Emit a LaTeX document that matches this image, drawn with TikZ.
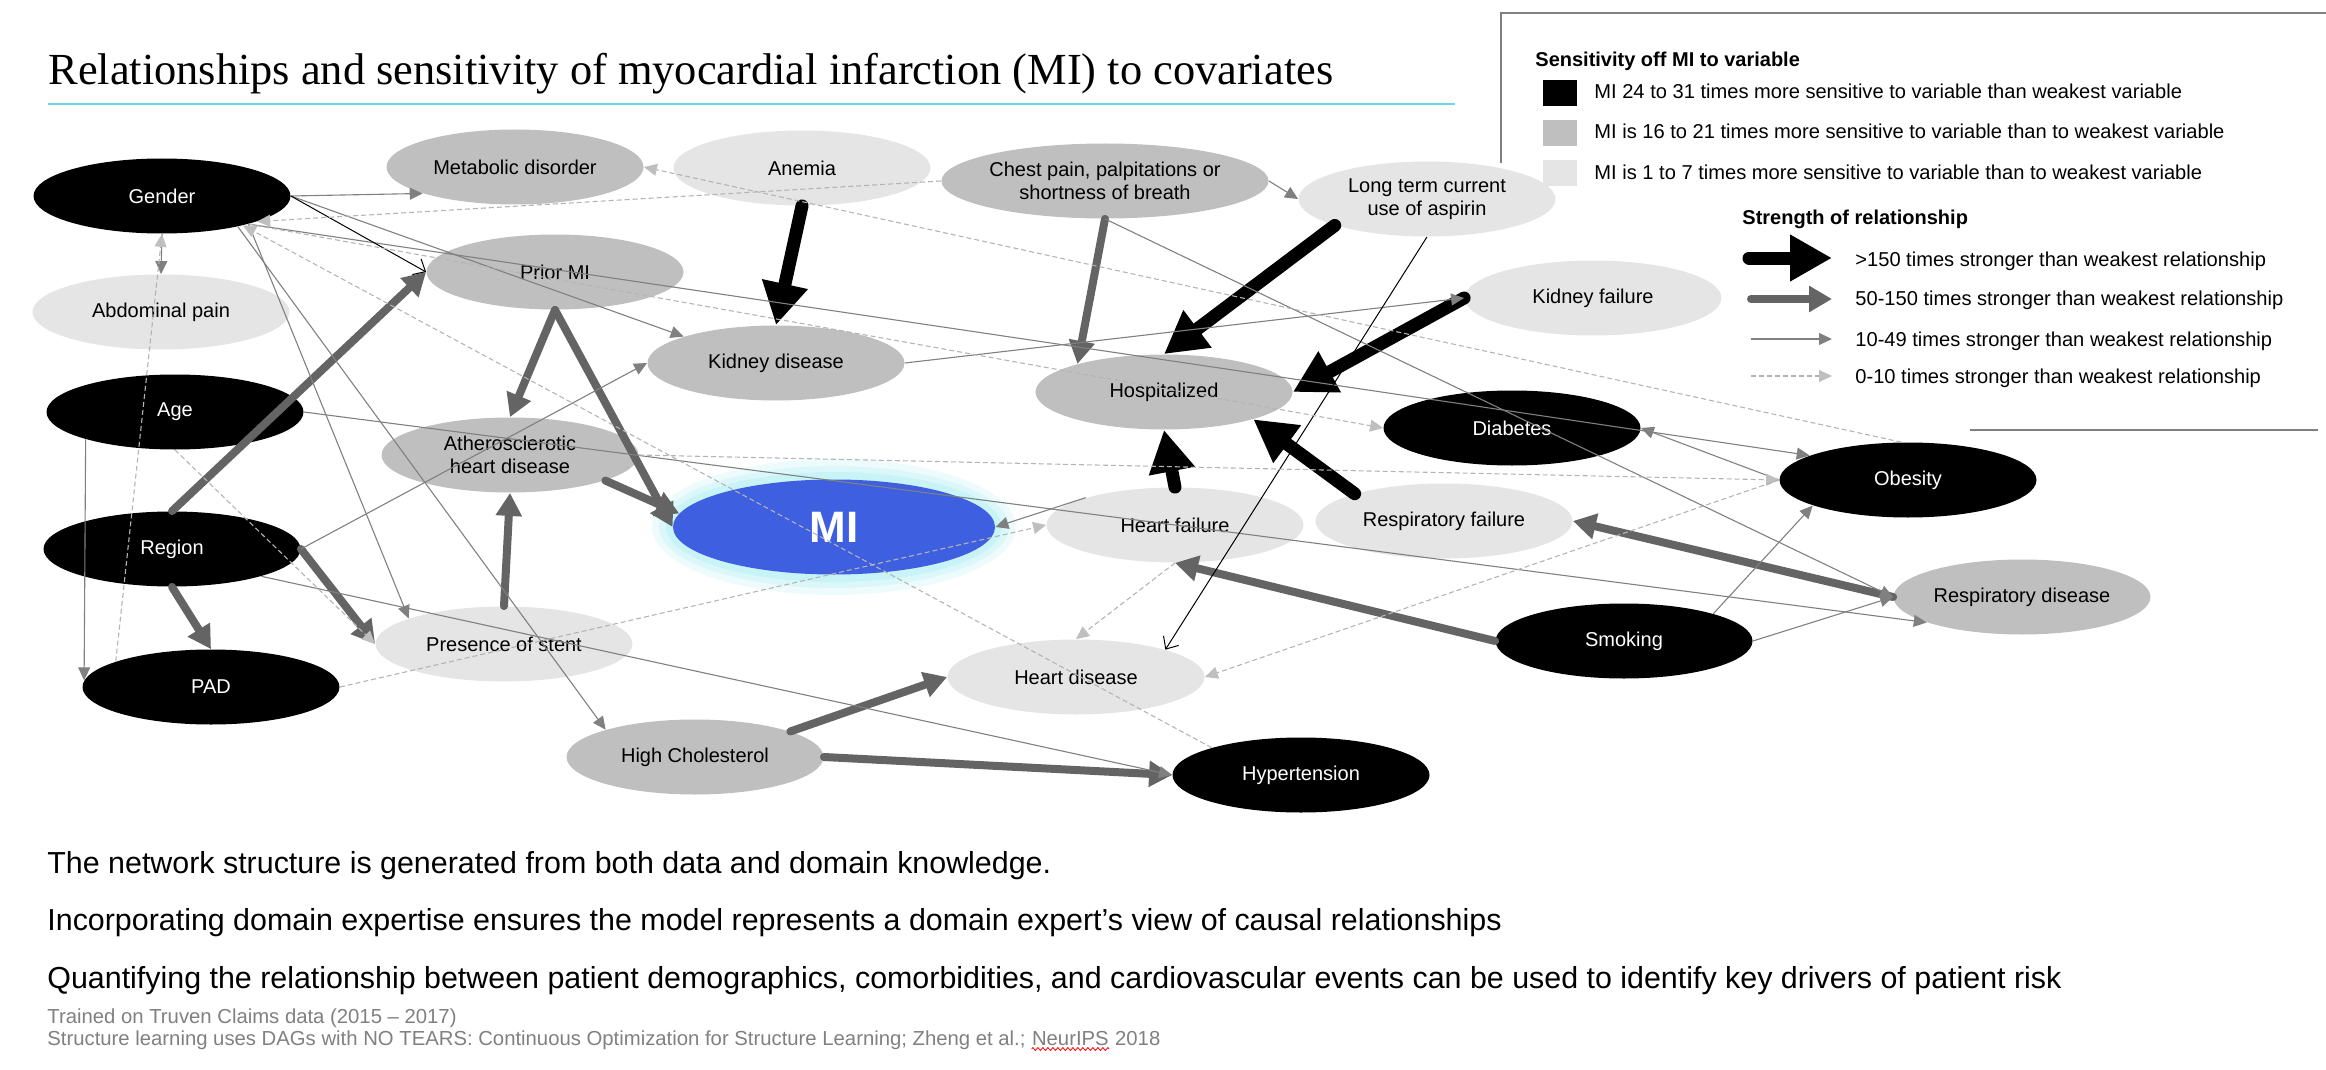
\documentclass[tikz,border=0pt]{standalone}
\usepackage{fontspec}
\setmainfont{Liberation Sans}
\newfontfamily\titlefont{Liberation Serif}
\usetikzlibrary{shapes.geometric,arrows.meta,decorations.pathmorphing}

\definecolor{midgray}{HTML}{BFBFBF}
\definecolor{lowgray}{HTML}{E5E5E5}
\definecolor{heavygray}{HTML}{646464}
\definecolor{linegray}{HTML}{808080}
\definecolor{dashgray}{HTML}{B4B4B4}
\definecolor{dashhead}{HTML}{BFBFBF}
\definecolor{miblue}{HTML}{3D5FE0}
\definecolor{miglow}{HTML}{B8F0F4}
\definecolor{rulecyan}{HTML}{66D9E8}
\definecolor{notegray}{HTML}{808080}

\begin{document}
\begin{tikzpicture}[x=0.5pt,y=-0.5pt,
    var/.style={ellipse,minimum width=128.5pt,minimum height=37.5pt,inner sep=0pt,
      align=center,font=\fontsize{10pt}{11.5pt}\selectfont},
    topvar/.style={var,fill=black,text=white},
    midvar/.style={var,fill=midgray},
    lowvar/.style={var,fill=lowgray},
    edgehuge/.style={-{Triangle[length=21pt,width=22pt]},line width=6.5pt,line cap=round,black},
    edgebig/.style={-{Triangle[length=11.5pt,width=12.5pt]},line width=4pt,line cap=round,heavygray},
    edgethin/.style={-{Triangle[length=6.5pt,width=6pt]},line width=0.55pt,linegray},
    edgeweak/.style={-{Triangle[length=6.5pt,width=6pt,color=dashhead]},line width=0.55pt,
      dash pattern=on 2.5pt off 1.5pt,dashgray},
    edgeblack/.style={-{Straight Barb[length=5pt,width=9pt]},line width=0.5pt,black},
    keytext/.style={anchor=base west,inner sep=0pt,font=\fontsize{10.05pt}{12pt}\selectfont},
    keyhead/.style={keytext,font=\fontsize{10pt}{12pt}\selectfont\bfseries},
    notetext/.style={anchor=base west,inner sep=0pt,font=\fontsize{15.2pt}{18pt}\selectfont},
    srctext/.style={anchor=base west,inner sep=0pt,text=notegray,font=\fontsize{10.15pt}{12pt}\selectfont}]
  %\draw[step=100,very thin,color=blue!20] (0,0) grid (2326,1070);
  \useasboundingbox (0,0) rectangle (2326,1070);

  % title
  \node[anchor=base west,inner sep=0pt,font=\titlefont\fontsize{22.2pt}{26pt}\selectfont] (title) at (48,85)
    {Relationships and sensitivity of myocardial infarction (MI) to covariates};
  \draw[rulecyan,line width=0.8pt] (48,104) -- (1455,104);

  % legend
  \draw[notegray,line width=1pt] (1501,163) -- (1501,13) -- (2326,13);
  \draw[notegray,line width=1pt] (1970,430) -- (2318,430);
  \node[keyhead] (senshead) at (1535,67) {Sensitivity off MI to variable};
  \node[fill=black,minimum width=17pt,minimum height=13pt,inner sep=0pt] (key1) at (1560,93) {};
  \node[fill=midgray,minimum width=17pt,minimum height=13pt,inner sep=0pt] (key2) at (1560,133) {};
  \node[fill=lowgray,minimum width=17pt,minimum height=13pt,inner sep=0pt] (key3) at (1560,173) {};
  \node[keytext] (sens1) at (1594,99) {MI 24 to 31 times more sensitive to variable than weakest variable};
  \node[keytext] (sens2) at (1594,139) {MI is 16 to 21 times more sensitive to variable than to weakest variable};
  \node[keytext] (sens3) at (1594,180) {MI is 1 to 7 times more sensitive to variable than to weakest variable};
  \node[keyhead] (strhead) at (1742,225) {Strength of relationship};
  \coordinate (k1a) at (1749,258); \coordinate (k1b) at (1832,258);
  \coordinate (k2a) at (1751,299); \coordinate (k2b) at (1832,299);
  \coordinate (k3a) at (1751,339); \coordinate (k3b) at (1832,339);
  \coordinate (k4a) at (1751,376); \coordinate (k4b) at (1832,376);
  \draw[edgehuge] (k1a) -- (k1b);
  \draw[edgebig] (k2a) -- (k2b);
  \draw[edgethin] (k3a) -- (k3b);
  \draw[edgeweak] (k4a) -- (k4b);
  \node[keytext] (str1) at (1855,266) {>150 times stronger than weakest relationship};
  \node[keytext] (str2) at (1855,306) {50-150 times stronger than weakest relationship};
  \node[keytext] (str3) at (1855,346) {10-49 times stronger than weakest relationship};
  \node[keytext] (str4) at (1855,383) {0-10 times stronger than weakest relationship};

  % glow round MI
  \coordinate (mic) at (834,527);
  \fill[miglow,opacity=0.25] (mic) ellipse [x radius=91pt,y radius=34pt];
  \fill[miglow,opacity=0.35] (mic) ellipse [x radius=87.5pt,y radius=30.5pt];
  \fill[miglow,opacity=0.5] (mic) ellipse [x radius=84pt,y radius=27.5pt];

  % variables
  \node[topvar] (gender) at (162,196) {Gender};
  \node[midvar] (metab) at (515,167) {Metabolic disorder};
  \node[lowvar] (anemia) at (802,168) {Anemia};
  \node[midvar] (chest) at (1105,181) {Chest pain, palpitations or\\shortness of breath};
  \node[lowvar] (aspirin) at (1427,199) {Long term current\\use of aspirin};
  \node[lowvar] (abdpain) at (161,312) {Abdominal pain};
  \node[midvar] (priormi) at (555,272) {Prior MI};
  \node[lowvar] (kidfail) at (1593,298) {Kidney failure};
  \node[topvar] (age) at (175,412) {Age};
  \node[midvar] (kiddis) at (776,363) {Kidney disease};
  \node[midvar] (hosp) at (1164,392) {Hospitalized};
  \node[midvar] (athero) at (510,455) {Atherosclerotic\\heart disease};
  \node[topvar] (diabetes) at (1512,428) {Diabetes};
  \node[topvar] (obesity) at (1908,480) {Obesity};
  \node[var,fill=miblue,text=white,minimum width=161pt,minimum height=47.5pt,
    font=\fontsize{22pt}{24pt}\selectfont\bfseries] (mi) at (mic) {MI};
  \node[lowvar] (heartfail) at (1175,525) {Heart failure};
  \node[lowvar] (respfail) at (1444,521) {Respiratory failure};
  \node[topvar] (region) at (172,549) {Region};
  \node[midvar] (respdis) at (2022,597) {Respiratory disease};
  \node[topvar] (smoking) at (1624,641) {Smoking};
  \node[lowvar] (stent) at (504,644) {Presence of stent};
  \node[topvar] (pad) at (211,687) {PAD};
  \node[lowvar] (heartdis) at (1076,677) {Heart disease};
  \node[midvar] (chol) at (695,757) {High Cholesterol};
  \node[topvar] (hyper) at (1301,775) {Hypertension};

  % >150
  \draw[edgehuge] (anemia.south) -- (kiddis.north);
  \draw[edgehuge] (aspirin.196) -- (hosp.north);
  \draw[edgehuge] (kidfail.west) -- (hosp.east);
  \draw[edgehuge] (heartfail.north) -- (hosp.south);
  \draw[edgehuge] (respfail.163) -- (hosp.-17);

  % 50-150
  \draw[edgebig] (chest.south) -- (hosp.162);
  \draw[edgebig] (priormi.south) -- (athero.north);
  \draw[edgebig] (priormi.south) -- (mi.west);
  \draw[edgebig] (athero.-15) -- (mi.175);
  \draw[edgebig] (region.north) -- (priormi.west);
  \draw[edgebig] (region.south) -- (pad.north);
  \draw[edgebig] (region.east) -- (stent.west);
  \draw[edgebig] (stent.north) -- (athero.south);
  \draw[edgebig] (chol.15) -- (heartdis.west);
  \draw[edgebig] (chol.east) -- (hyper.west);
  \draw[edgebig] (smoking.west) -- (heartfail.south);
  \draw[edgebig] (respdis.west) -- (respfail.east);

  % 10-49
  \draw[edgethin] (gender.east) -- (metab.196);
  \draw[edgethin] (gender.east) -- (kiddis.164);
  \draw[edgethin] (gender.-18) -- (stent.165);
  \draw[edgethin] (gender.-22) -- (chol.163);
  \draw[edgethin] (gender.-18) -- (obesity.166);
  \draw[edgethin] (gender.south) -- (abdpain.north);
  \draw[edgethin] (age.197) -- (pad.177);
  \draw[edgethin] (age.east) -- (respdis.195);
  \draw[edgethin] (region.east) -- (kiddis.west);
  \draw[edgethin] (region.-17) -- (hyper.west);
  \draw[edgethin] (chest.east) -- (aspirin.west);
  \draw[edgethin] (chest.south) -- (respdis.west);
  \draw[edgethin] (kiddis.east) -- (kidfail.west);
  \draw[edgethin] (heartfail.163) -- (mi.east);
  \draw[edgethin] (obesity.west) -- (diabetes.east);
  \draw[edgethin] (smoking.17) -- (obesity.195);
  \draw[edgethin] (smoking.east) -- (respdis.west);
  \draw[edgeblack] (gender.east) -- (priormi.west);
  \draw[edgeblack] (aspirin.south) -- (heartdis.17);

  % 0-10
  \draw[edgeweak] (obesity.100) -- (metab.east);
  \draw[edgeweak] (chest.west) -- (gender.-15);
  \draw[edgeweak] (pad.165) -- (gender.south);
  \draw[edgeweak] (gender.-18) -- (diabetes.west);
  \draw[edgeweak] (hyper.163) -- (gender.-20);
  \draw[edgeweak] (age.south) -- (stent.west);
  \draw[edgeweak] (pad.east) -- (heartfail.west);
  \draw[edgeweak] (athero.east) -- (obesity.west);
  \draw[edgeweak] (obesity.west) -- (heartdis.east);
  \draw[edgeweak] (heartfail.south) -- (heartdis.north);

  % notes
  \node[notetext] (note1) at (47,873) {The network structure is generated from both data and domain knowledge.};
  \node[notetext] (note2) at (47,930) {Incorporating domain expertise ensures the model represents a domain expert’s view of causal relationships};
  \node[notetext] (note3) at (47,988) {Quantifying the relationship between patient demographics, comorbidities, and cardiovascular events can be used to identify key drivers of patient risk};
  \node[srctext] (src1) at (47,1023) {Trained on Truven Claims data (2015 – 2017)};
  \node[srctext] (src2) at (47,1045) {Structure learning uses DAGs with NO TEARS: Continuous Optimization for Structure Learning; Zheng et al.;};
  \node[srctext] (neurips) at ([xshift=2.8pt]src2.base east) {NeurIPS};
  \node[srctext] (year) at ([xshift=2.8pt]neurips.base east) {2018};
  \draw[red,line width=0.4pt,decorate,decoration={zigzag,segment length=2.5pt,amplitude=0.7pt}]
    ([yshift=-2pt]neurips.base west) -- ([yshift=-2pt]neurips.base east);
\end{tikzpicture}
\end{document}
